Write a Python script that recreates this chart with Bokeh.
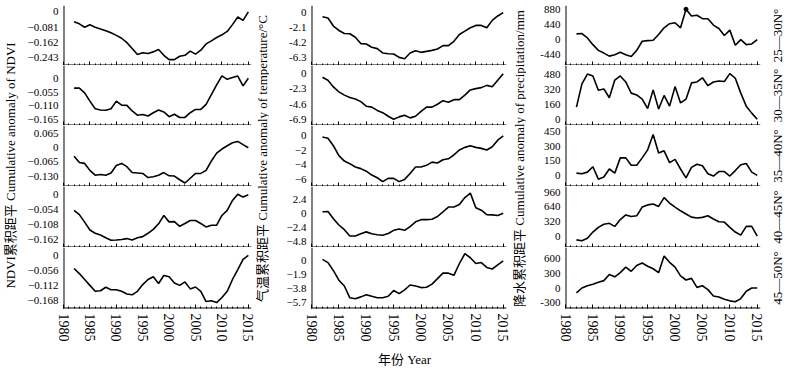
from math import pi
from bokeh.plotting import figure
from bokeh.models import Range1d, FixedTicker, Label, LinearAxis
from bokeh.layouts import row, column
from bokeh.embed import file_html
from bokeh.resources import INLINE

# ---------------- data ----------------
years = list(range(1982, 2016))
x_major_ticks = [1980, 1985, 1990, 1995, 2000, 2005, 2010, 2015]
x_minor_ticks = list(range(1980, 2016))

ndvi_25_30 = [-0.052, -0.063, -0.081, -0.068, -0.081, -0.090, -0.099, -0.110, -0.124, -0.139,
              -0.162, -0.193, -0.225, -0.216, -0.220, -0.211, -0.198, -0.229, -0.252, -0.252,
              -0.234, -0.229, -0.207, -0.223, -0.202, -0.169, -0.153, -0.135, -0.121, -0.103,
              -0.067, -0.027, -0.045, 0.0]
ndvi_30_35 = [-0.039, -0.039, -0.058, -0.091, -0.121, -0.126, -0.127, -0.121, -0.091, -0.107,
              -0.108, -0.130, -0.147, -0.144, -0.150, -0.137, -0.126, -0.134, -0.153, -0.143,
              -0.156, -0.156, -0.137, -0.124, -0.124, -0.104, -0.065, -0.026, 0.010, -0.004,
              0.003, 0.009, -0.030, 0.0]
ndvi_35_40 = [-0.039, -0.068, -0.072, -0.104, -0.126, -0.123, -0.126, -0.116, -0.082, -0.072,
              -0.087, -0.114, -0.116, -0.118, -0.137, -0.133, -0.126, -0.114, -0.129, -0.130,
              -0.147, -0.162, -0.140, -0.118, -0.118, -0.104, -0.061, -0.025, -0.006, 0.009,
              0.023, 0.029, 0.014, 0.0]
ndvi_40_45 = [-0.056, -0.071, -0.098, -0.126, -0.138, -0.144, -0.154, -0.163, -0.162, -0.160,
              -0.157, -0.162, -0.154, -0.150, -0.138, -0.124, -0.104, -0.074, -0.097, -0.096,
              -0.113, -0.103, -0.092, -0.092, -0.103, -0.115, -0.109, -0.109, -0.074, -0.056,
              -0.020, 0.002, -0.008, 0.0]
ndvi_45_50 = [-0.049, -0.068, -0.090, -0.112, -0.134, -0.132, -0.119, -0.128, -0.128, -0.134,
              -0.144, -0.147, -0.134, -0.109, -0.090, -0.080, -0.105, -0.075, -0.080, -0.103,
              -0.112, -0.099, -0.125, -0.118, -0.134, -0.172, -0.169, -0.176, -0.157, -0.134,
              -0.090, -0.053, -0.015, 0.0]

temp_25_30 = [-0.57, -0.76, -1.89, -2.51, -2.94, -2.98, -3.46, -4.36, -4.41, -4.88,
              -5.07, -5.68, -5.78, -5.83, -6.30, -6.49, -5.68, -5.35, -5.59, -5.45,
              -5.31, -5.12, -4.64, -4.64, -4.03, -3.08, -2.61, -2.13, -1.80, -1.80,
              -2.13, -1.09, -0.47, 0.0]
temp_30_35 = [-0.54, -0.98, -2.00, -2.74, -3.23, -3.57, -3.82, -4.21, -4.89, -5.04,
              -5.53, -5.87, -6.41, -6.85, -6.50, -6.26, -6.65, -6.41, -5.67, -5.04,
              -5.04, -4.60, -4.06, -4.30, -3.91, -3.91, -3.23, -2.45, -2.25, -2.10,
              -1.76, -1.96, -0.98, 0.0]
temp_35_40 = [-0.14, -0.32, -1.36, -2.73, -3.50, -3.86, -4.32, -4.55, -4.91, -5.45,
              -5.82, -6.36, -5.91, -5.91, -6.36, -6.05, -5.23, -4.32, -4.32, -4.09,
              -3.64, -3.77, -3.32, -3.18, -2.64, -1.95, -1.59, -1.36, -1.59, -1.73,
              -1.95, -1.50, -0.59, 0.0]
temp_40_45 = [0.26, 0.32, -0.90, -1.96, -2.75, -3.81, -3.81, -3.44, -3.12, -3.44,
              -3.60, -3.70, -3.39, -2.86, -2.65, -2.86, -2.22, -1.43, -1.06, -1.06,
              -1.00, -0.53, 0.26, 1.06, 1.06, 1.48, 2.65, 3.40, 0.95, 0.53,
              -0.21, -0.26, -0.37, 0.0]
temp_45_50 = [0.22, -0.22, -1.32, -2.63, -3.42, -5.04, -5.17, -4.91, -4.61, -4.82,
              -5.04, -5.04, -4.82, -4.04, -4.47, -3.95, -3.29, -3.42, -3.64, -3.60,
              -3.16, -2.41, -1.67, -1.67, -1.97, -0.35, 1.00, 0.44, -0.35, -0.22,
              -0.88, -1.10, -0.53, 0.0]

prec_25_30 = [166, 176, 49, -147, -313, -391, -480, -440, -370, -440,
              -490, -313, -49, -29, -20, 147, 342, 460, 489, 342,
              880, 684, 704, 606, 606, 420, 323, 117, 274, -166,
              0, -147, -127, 0]
prec_30_35 = [130, 380, 485, 465, 310, 325, 230, 420, 465, 400,
              280, 260, 215, 115, 315, 110, 255, 140, 350, 175,
              215, 390, 400, 445, 360, 400, 410, 405, 490, 440,
              280, 140, 65, 0]
prec_35_40 = [23, 16, 33, 88, -39, -16, 65, 23, 179, 179,
              104, 104, 179, 261, 417, 228, 251, 130, 163, 65,
              -26, 82, 114, 98, 16, -7, 39, 39, -7, 49,
              108, 121, 33, 0]
prec_40_45 = [-82, -103, -48, 89, 192, 261, 281, 213, 363, 466,
              432, 446, 638, 686, 706, 652, 844, 727, 638, 556,
              487, 418, 398, 412, 446, 377, 315, 309, 192, 89,
              21, 213, 213, 0]
prec_45_50 = [-100, 0, 46, 79, 118, 151, 276, 230, 315, 427,
              342, 460, 513, 447, 394, 315, 657, 526, 427, 250,
              164, 197, 13, 46, -33, -164, -184, -230, -263, -283,
              -217, -66, 0, 0]

zones = ["25—30N°", "30—35N°", "35—40N°", "40—45N°", "45—50N°"]

ndvi_ticks = [[0, -0.081, -0.162, -0.243], [0, -0.055, -0.110, -0.165], [0.065, 0, -0.065, -0.130],
              [0, -0.054, -0.108, -0.162], [0, -0.056, -0.112, -0.168]]
ndvi_tick_labels = [["0", "−0.081", "−0.162", "−0.243"], ["0", "−0.055", "−0.110", "−0.165"],
                    ["0.065", "0", "−0.065", "−0.130"], ["0", "−0.054", "−0.108", "−0.162"],
                    ["0", "−0.056", "−0.112", "−0.168"]]
ndvi_ranges = [(-0.283, 0.034), (-0.188, 0.051), (-0.178, 0.102), (-0.189, 0.030), (-0.198, 0.029)]

temp_ticks = [[0, -2.1, -4.2, -6.3], [0, -2.3, -4.6, -6.9], [0, -2, -4, -6],
              [2.4, 0, -2.4, -4.8], [0, -1.9, -3.8, -5.7]]
temp_tick_labels = [["0", "-2.1", "-4.2", "-6.3"], ["0", "-2.3", "-4.6", "-6.9"], ["0", "−2", "−4", "−6"],
                    ["2.4", "0", "−2.4", "−4.8"], ["0", "−1.9", "−3.8", "−5.7"]]
temp_ranges = [(-7.44, 1.0), (-7.8, 1.23), (-7.04, 1.46), (-5.75, 4.52), (-6.5, 1.84)]

prec_ticks = [[880, 440, 0, -440], [480, 320, 160, 0], [450, 300, 150, 0],
              [960, 640, 320, 0], [600, 300, 0, -300]]
prec_tick_labels = [["880", "440", "0", "-440"], ["480", "320", "160", "0"], ["450", "300", "150", "0"],
                    ["960", "640", "320", "0"], ["600", "300", "0", "-300"]]
prec_ranges = [(-751, 988), (-68, 577), (-114, 510), (-250, 1090), (-420, 830)]

y_titles = ["NDVI累积距平 Cumulative anomaly of NDVI",
            "气温累积距平 Cumulative anomaly of temperature/°C",
            "降水累积距平 Cumulative anomaly of precipitation/mm"]
x_title = "年份 Year"

# ---------------- layout / style ----------------
SERIF = "Liberation Serif"
MIXED = "Liberation Serif, Noto Sans CJK SC"
FRAME_H = [60, 60, 61, 61, 61]
TOP = 5
BOTTOM = 42
ROW_H = TOP + sum(FRAME_H) + BOTTOM
TITLE_H = 17
X0, X1 = 1980, 2015.6


def tick_only_axis(ticks, length):
    """An x axis that only draws inward tick marks (no rule, no labels)."""
    return LinearAxis(ticker=FixedTicker(ticks=[], minor_ticks=ticks),
                      minor_tick_in=length, minor_tick_out=0,
                      major_tick_in=0, major_tick_out=0,
                      minor_tick_line_color="black", axis_line_color=None)


def make_panel(vals, rng, ticks, labels, i, left, fw, right, dot=False):
    top = TOP if i == 0 else 0
    bottom = BOTTOM if i == 4 else 0
    p = figure(width=left + fw + right, height=FRAME_H[i] + top + bottom,
               x_range=Range1d(X0, X1), y_range=Range1d(*rng),
               x_axis_location=None,
               output_backend="svg", toolbar_location=None,
               min_border_left=left, min_border_right=right,
               min_border_top=top, min_border_bottom=bottom)
    p.outline_line_color = None
    p.background_fill_color = "white"
    p.border_fill_color = "white"
    p.grid.visible = False
    # left + bottom rule of the panel, along the range limits
    p.line([X0, X0, X1], [rng[1], rng[0], rng[0]], line_color="black", line_width=2)
    p.line(years, vals, line_color="black", line_width=1.6)
    if dot:
        k = vals.index(max(vals))
        p.scatter([years[k]], [vals[k]], size=4, color="black")

    if i < 4:
        p.add_layout(tick_only_axis(x_minor_ticks, 2), "below")
        p.add_layout(tick_only_axis(x_major_ticks, 4), "below")
    else:
        xa = LinearAxis(ticker=FixedTicker(ticks=x_major_ticks, minor_ticks=x_minor_ticks))
        xa.major_tick_in = 4
        xa.major_tick_out = 0
        xa.minor_tick_in = 2
        xa.minor_tick_out = 0
        xa.axis_line_color = None
        xa.major_tick_line_color = "black"
        xa.minor_tick_line_color = "black"
        xa.major_label_text_font = SERIF
        xa.major_label_text_font_size = "14px"
        xa.major_label_text_color = "black"
        xa.major_label_orientation = "vertical"
        xa.major_label_standoff = 5
        p.add_layout(xa, "below")

    ya = p.yaxis[0]
    ya.ticker = FixedTicker(ticks=ticks)
    ya.major_label_overrides = {t: l for t, l in zip(ticks, labels)}
    ya.major_tick_in = 0
    ya.major_tick_out = 0
    ya.minor_tick_line_color = None
    ya.axis_line_color = None
    ya.major_label_text_font = SERIF
    ya.major_label_text_font_size = "11px"
    ya.major_label_text_color = "black"
    ya.major_label_standoff = 5
    return p


def label_fig(w, h, texts, xcs, ycs, angle):
    p = figure(width=w, height=h, x_range=Range1d(0, w), y_range=Range1d(h, 0),
               x_axis_type=None, y_axis_type=None, output_backend="svg",
               toolbar_location=None, min_border=0)
    p.outline_line_color = None
    p.grid.visible = False
    for t, xc, yc in zip(texts, xcs, ycs):
        p.add_layout(Label(x=xc, y=yc, text=t, angle=angle, text_align="center",
                           text_baseline="middle", text_font=MIXED, text_font_size="13px",
                           text_color="black"))
    return p


series = [
    ([ndvi_25_30, ndvi_30_35, ndvi_35_40, ndvi_40_45, ndvi_45_50], ndvi_ranges, ndvi_ticks, ndvi_tick_labels),
    ([temp_25_30, temp_30_35, temp_35_40, temp_40_45, temp_45_50], temp_ranges, temp_ticks, temp_tick_labels),
    ([prec_25_30, prec_30_35, prec_35_40, prec_40_45, prec_45_50], prec_ranges, prec_ticks, prec_tick_labels),
]
geom = [dict(left=43, fw=188, right=4), dict(left=42, fw=195, right=6), dict(left=39, fw=195, right=10)]
label_w = [20, 14, 14]
label_y = [165, 158, 158]

children = []
for c in range(3):
    vals, rngs, tks, tls = series[c]
    g = geom[c]
    panels = [make_panel(vals[i], rngs[i], tks[i], tls[i], i, g["left"], g["fw"], g["right"],
                         dot=(c == 2 and i == 0)) for i in range(5)]
    children.append(label_fig(label_w[c], ROW_H, [y_titles[c]], [label_w[c] / 2], [label_y[c]], pi / 2))
    children.append(column(*panels, spacing=0))

zone_y = []
acc = TOP
for h in FRAME_H:
    zone_y.append(acc + h / 2)
    acc += h
children.append(label_fig(14, ROW_H, zones, [7] * 5, zone_y, pi / 2))

total_w = 20 + 235 + 14 + 243 + 14 + 244 + 14
title_fig = label_fig(total_w, TITLE_H, [x_title], [404], [TITLE_H / 2], 0)

layout = column(row(*children, spacing=0), title_fig, spacing=0)

with open("out.html", "w") as f:
    f.write(file_html(layout, INLINE))
